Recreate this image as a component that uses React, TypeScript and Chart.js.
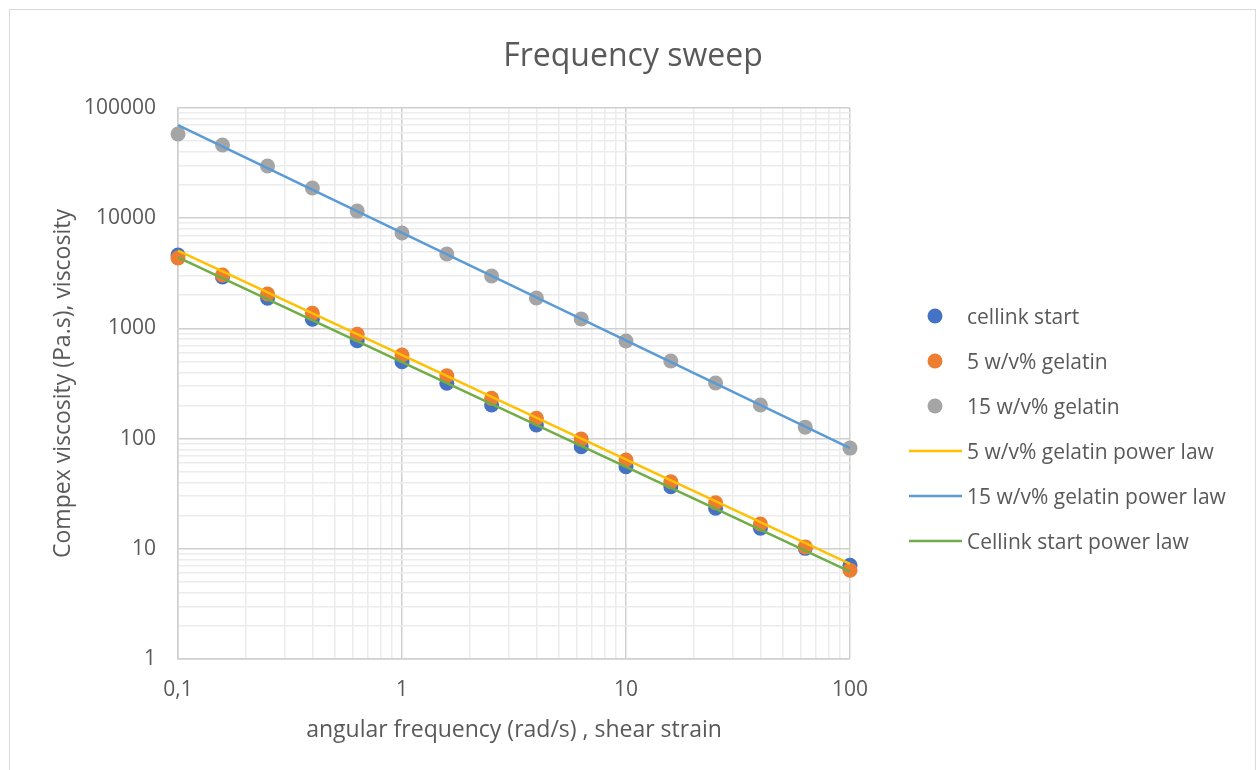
import React, { useEffect, useRef } from 'react';
import { Chart, registerables } from 'chart.js';

Chart.register(...registerables);

// ---- data ----
const frequency = [0.1, 0.158, 0.251, 0.398, 0.631, 1, 1.585, 2.512, 3.981, 6.31, 10, 15.85, 25.12, 39.81, 63.1, 100];
const cellinkStart = [4640, 2925, 1876, 1210, 773, 499, 318, 202, 133, 84.4, 55.6, 36.6, 23.3, 15.4, 10.1, 7.1];
const gelatin5 = [4350, 3050, 2050, 1370, 883, 574, 372, 232, 153, 99, 64, 40.6, 26.2, 16.8, 10.4, 6.4];
const gelatin15 = [58000, 46100, 29800, 18800, 11600, 7340, 4730, 2990, 1890, 1217, 769, 506, 320, 202, 127, 82];

const fitFrequency = [0.1, 100];
const fitGelatin5 = [5070, 7.3];
const fitGelatin15 = [70100, 82];
const fitCellink = [4420, 6.2];

const xDecades = [0.1, 1, 10, 100];
const yDecades = [1, 10, 100, 1000, 10000, 100000];

const titleText = 'Frequency sweep';
const xTitle = 'angular frequency (rad/s) , shear strain';
const yTitle = 'Compex viscosity (Pa.s), viscosity';

const FONT = '"Open Sans", sans-serif';
const TEXT = '#595959';
const MAJOR = '#cfcfcf';
const MINOR = '#ececec';

function withMinors(decades: number[]) {
  const out: number[] = [];
  for (let i = 0; i < decades.length - 1; i++) {
    for (let k = 1; k <= 9; k++) out.push(decades[i] * k);
  }
  out.push(decades[decades.length - 1]);
  return out;
}

function pts(xs: number[], ys: number[]) {
  return xs.map((x, i) => ({ x, y: ys[i] }));
}

const decorPlugin = {
  id: 'decor',
  afterDraw(chart: any) {
    const ctx = chart.ctx as CanvasRenderingContext2D;
    ctx.save();
    // outer frame
    ctx.strokeStyle = '#d9d9d9';
    ctx.lineWidth = 1;
    ctx.strokeRect(9.5, 9.5, 1246, 800);
    // title
    ctx.fillStyle = TEXT;
    ctx.font = `32px ${FONT}`;
    ctx.textAlign = 'center';
    ctx.textBaseline = 'alphabetic';
    ctx.fillText(titleText, 633, 66);
    // legend
    ctx.font = `21px ${FONT}`;
    ctx.textAlign = 'left';
    ctx.textBaseline = 'middle';
    chart.data.datasets.forEach((ds: any, i: number) => {
      const y = 316 + i * 45;
      if (ds.showLine) {
        ctx.strokeStyle = ds.borderColor;
        ctx.lineWidth = 2.5;
        ctx.beginPath();
        ctx.moveTo(909, y);
        ctx.lineTo(962, y);
        ctx.stroke();
      } else {
        ctx.fillStyle = ds.backgroundColor;
        ctx.beginPath();
        ctx.arc(935, y, 7.5, 0, Math.PI * 2);
        ctx.fill();
      }
      ctx.fillStyle = TEXT;
      ctx.fillText(ds.label, 967, y + 2);
    });
    ctx.restore();
  },
};

export default function App() {
  const ref = useRef<HTMLCanvasElement>(null);

  useEffect(() => {
    document.body.style.margin = '0';
    const canvas = ref.current!;
    const pointDs = (label: string, color: string, ys: number[], order: number) => ({
      label,
      data: pts(frequency, ys),
      backgroundColor: color,
      borderColor: color,
      borderWidth: 0,
      pointRadius: 7.5,
      pointHoverRadius: 7.5,
      showLine: false,
      clip: false as any,
      order,
    });
    const lineDs = (label: string, color: string, ys: number[], order: number) => ({
      label,
      data: pts(fitFrequency, ys),
      backgroundColor: color,
      borderColor: color,
      borderWidth: 2.5,
      pointRadius: 0,
      showLine: true,
      clip: false as any,
      order,
    });

    const chart = new Chart(canvas, {
      type: 'scatter',
      data: {
        datasets: [
          pointDs('cellink start', '#4472C4', cellinkStart, 6),
          pointDs('5 w/v% gelatin', '#ED7D31', gelatin5, 5),
          pointDs('15 w/v% gelatin', '#A5A5A5', gelatin15, 4),
          lineDs('5 w/v% gelatin power law', '#FFC000', fitGelatin5, 1),
          lineDs('15 w/v% gelatin power law', '#5B9BD5', fitGelatin15, 2),
          lineDs('Cellink start power law', '#70AD47', fitCellink, 3),
        ] as any,
      },
      options: {
        animation: false,
        responsive: false,
        devicePixelRatio: 1,
        layout: { padding: { left: 0, top: 108, right: 407, bottom: 11 } },
        plugins: {
          legend: { display: false },
          title: { display: false },
          tooltip: { enabled: false },
        },
        scales: {
          x: {
            type: 'logarithmic',
            min: 0.1,
            max: 100,
            afterBuildTicks: (scale: any) => {
              scale.ticks = withMinors(xDecades).map((v) => ({ value: v }));
            },
            afterFit: (scale: any) => {
              scale.height = 100;
            },
            grid: {
              drawTicks: false,
              lineWidth: 1.5,
              color: (c: any) => (c.tick && xDecades.includes(c.tick.value) ? MAJOR : MINOR),
            },
            border: { display: true, color: MAJOR, width: 1.5 },
            ticks: {
              autoSkip: false,
              maxRotation: 0,
              minRotation: 0,
              padding: 18,
              color: TEXT,
              font: { family: FONT, size: 21 },
              callback: (v: any) => (xDecades.includes(Number(v)) ? String(v).replace('.', ',') : ''),
            },
            title: {
              display: true,
              text: xTitle,
              color: TEXT,
              font: { family: FONT, size: 23 },
              padding: { top: 0, bottom: 15 },
            },
          },
          y: {
            type: 'logarithmic',
            min: 1,
            max: 100000,
            afterBuildTicks: (scale: any) => {
              scale.ticks = withMinors(yDecades).map((v) => ({ value: v }));
            },
            afterFit: (scale: any) => {
              scale.width = 178;
            },
            grid: {
              drawTicks: false,
              lineWidth: 1.5,
              color: (c: any) => (c.tick && yDecades.includes(c.tick.value) ? MAJOR : MINOR),
            },
            border: { display: true, color: MAJOR, width: 1.5 },
            ticks: {
              autoSkip: false,
              padding: 22,
              color: TEXT,
              font: { family: FONT, size: 21 },
              callback: (v: any) => (yDecades.includes(Number(v)) ? String(v) : ''),
            },
            title: {
              display: true,
              text: yTitle,
              color: TEXT,
              font: { family: FONT, size: 23 },
              padding: { top: 50, bottom: 0 },
            },
          },
        },
      } as any,
      plugins: [decorPlugin],
    });
    return () => chart.destroy();
  }, []);

  return (
    <div style={{ position: 'absolute', left: 0, top: 0, width: 1257, height: 770 }}>
      <canvas ref={ref} width={1257} height={770} style={{ display: 'block' }} />
    </div>
  );
}
